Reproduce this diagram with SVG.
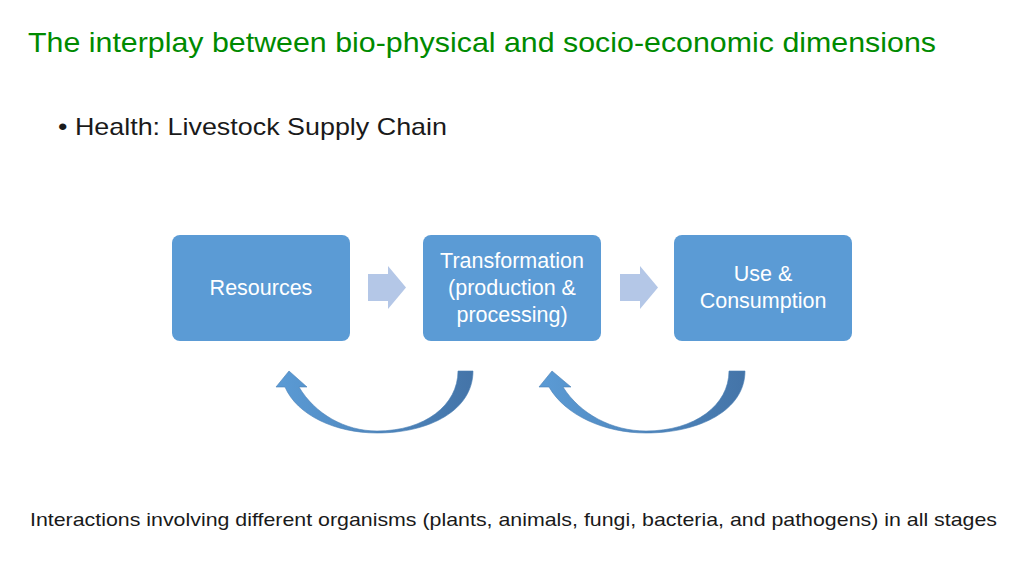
<svg xmlns="http://www.w3.org/2000/svg" width="1024" height="576" viewBox="0 0 1024 576">
<style>
.t{font-family:"Liberation Sans","DejaVu Sans",sans-serif}
.box{fill:#5b9bd5}
.bt{fill:#fff;font-size:21.5px;text-anchor:middle}
.ba{fill:#b4c7e7}
</style>
<defs>
<linearGradient id="cg" x1="0" y1="0" x2="1" y2="0">
<stop offset="0" stop-color="#5b9bd5"/>
<stop offset="1" stop-color="#4474a8"/>
</linearGradient>
</defs>
<rect width="1024" height="576" fill="#fff"/>
<text class="t" x="28" y="52" font-size="28" fill="#008a00" textLength="908" lengthAdjust="spacingAndGlyphs">The interplay between bio-physical and socio-economic dimensions</text>
<text class="t" x="58" y="135" font-size="24" fill="#1a1a1a" textLength="389" lengthAdjust="spacingAndGlyphs">• Health: Livestock Supply Chain</text>
<g id="resources">
<rect class="box" x="172" y="235" width="178" height="106" rx="8"/>
<text class="t bt" x="261" y="295">Resources</text>
</g>
<g id="transformation">
<rect class="box" x="423" y="235" width="178" height="106" rx="8"/>
<text class="t bt" x="512" y="268">Transformation</text>
<text class="t bt" x="512" y="295">(production &amp;</text>
<text class="t bt" x="512" y="322">processing)</text>
</g>
<g id="use">
<rect class="box" x="674" y="235" width="178" height="106" rx="8"/>
<text class="t bt" x="763" y="281">Use &amp;</text>
<text class="t bt" x="763" y="308">Consumption</text>
</g>
<g id="connectors">
<path class="ba" d="M368,274 H388 V266 L406,287.5 L388,309 V301 H368 Z"/>
<path class="ba" d="M620,274 H640 V266 L658,287.5 L640,309 V301 H620 Z"/>
<path fill="url(#cg)" stroke="#4a7fb5" stroke-width="0.6" d="M473,371 C473,410 430,433 377,433 C335,433 297,415 285,387 L276,387 L289,371 L307,387 L299,387 C315,414 345,431 377,431 C425,431 458,405 458,371 Z"/>
<path fill="url(#cg)" stroke="#4a7fb5" stroke-width="0.6" d="M745,371 C745,410 700,433 646,433 C604,433 565,415 549,387 L539,387 L552,371 L571,387 L563,387 C580,414 612,431 646,431 C695,431 729,405 729,371 Z"/>
</g>
<text class="t" x="30" y="526" font-size="19" fill="#1a1a1a" textLength="967" lengthAdjust="spacingAndGlyphs">Interactions involving different organisms (plants, animals, fungi, bacteria, and pathogens) in all stages</text>
</svg>
